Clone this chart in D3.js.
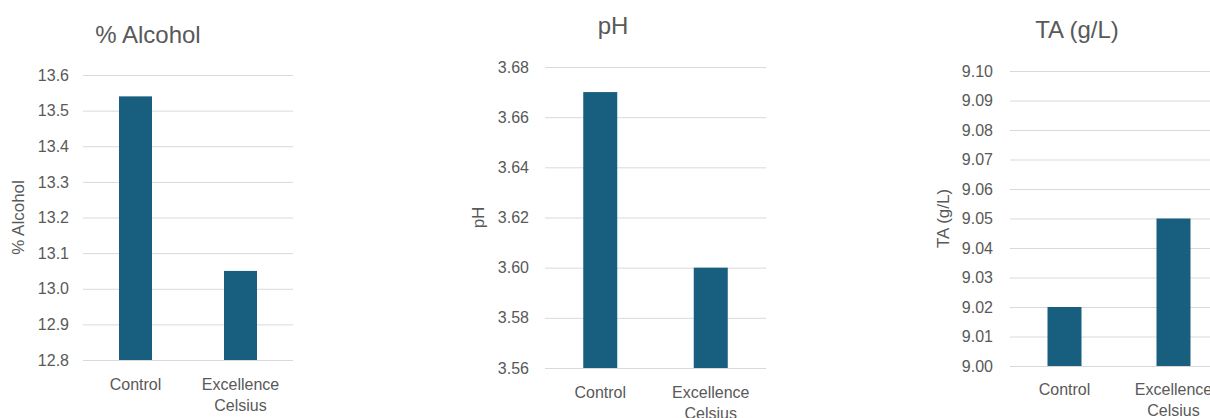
<!DOCTYPE html>
<html><head><meta charset="utf-8">
<script src="https://cdn.jsdelivr.net/npm/d3@7"></script>
<style>
body{margin:0;background:#fff;}
svg{display:block;}
text{font-family:"Liberation Sans",Arial,sans-serif;fill:#595959;}
</style></head>
<body>
<svg id="c" width="1210" height="418"></svg>
<script>
const categories = ["Control", "Excellence Celsius"];
const alcoholValues = [13.54, 13.05];
const phValues = [3.67, 3.60];
const taValues = [9.02, 9.05];
const alcoholTicks = [12.8, 12.9, 13.0, 13.1, 13.2, 13.3, 13.4, 13.5, 13.6];
const phTicks = [3.56, 3.58, 3.60, 3.62, 3.64, 3.66, 3.68];
const taTicks = [9.00, 9.01, 9.02, 9.03, 9.04, 9.05, 9.06, 9.07, 9.08, 9.09, 9.10];
const titles = ["% Alcohol", "pH", "TA (g/L)"];

const svg = d3.select("#c");
const barColor = "#175e7f";

const layouts = [
  {x0: 83, x1: 293, top: 75, bottom: 360, fmt: d3.format(".1f"), titleX: 148, titleY: 43, ylabX: 24, tickX: 69, catY: 390, bw: 33},
  {x0: 545, x1: 766, top: 67, bottom: 368, fmt: d3.format(".2f"), titleX: 613, titleY: 34, ylabX: 484, tickX: 529, catY: 398, bw: 34},
  {x0: 1010, x1: 1228, top: 71, bottom: 366, fmt: d3.format(".2f"), titleX: 1077, titleY: 38, ylabX: 949, tickX: 993, catY: 395, bw: 34}
];
const datasets = [alcoholValues, phValues, taValues];
const tickSets = [alcoholTicks, phTicks, taTicks];

layouts.forEach((L, i) => {
  const ticks = tickSets[i];
  const y = d3.scaleLinear().domain([ticks[0], ticks[ticks.length-1]]).range([L.bottom, L.top]);
  const x = d3.scaleBand().domain(categories).range([L.x0, L.x1]).padding(0);
  const g = svg.append("g");

  // gridlines
  const grid = g.append("g").attr("transform", `translate(${L.x0},0)`)
    .call(d3.axisLeft(y).tickValues(ticks).tickSize(-(L.x1 - L.x0)).tickFormat(""));
  grid.select(".domain").remove();
  grid.selectAll("line").attr("stroke", "#d9d9d9").attr("stroke-width", 1);

  // tick labels
  const ax = g.append("g").attr("transform", `translate(${L.tickX},0)`)
    .call(d3.axisLeft(y).tickValues(ticks).tickSize(0).tickPadding(0).tickFormat(L.fmt));
  ax.select(".domain").remove();
  ax.selectAll("text").attr("font-size", 16).attr("fill", "#595959")
    .style("font-family", '"Liberation Sans",Arial,sans-serif');

  // bars
  g.selectAll("rect").data(datasets[i]).enter().append("rect")
    .attr("x", (d, j) => x(categories[j]) + x.bandwidth()/2 - L.bw/2)
    .attr("width", L.bw)
    .attr("y", d => y(d))
    .attr("height", d => L.bottom - y(d))
    .attr("fill", barColor);

  // category labels
  categories.forEach(c => {
    const words = c.split(" ");
    const t = g.append("text").attr("text-anchor", "middle").attr("font-size", 16)
      .attr("x", x(c) + x.bandwidth()/2).attr("y", L.catY);
    words.forEach((w, k) => t.append("tspan").attr("x", x(c) + x.bandwidth()/2).attr("dy", k === 0 ? 0 : 21).text(w));
  });

  // title
  g.append("text").attr("x", L.titleX).attr("y", L.titleY).attr("text-anchor", "middle")
    .attr("font-size", 24).text(titles[i]);

  // y label
  g.append("text").attr("transform", `translate(${L.ylabX},${(L.top + L.bottom)/2}) rotate(-90)`)
    .attr("text-anchor", "middle").attr("font-size", 17).text(titles[i]);
});
</script>
</body></html>
